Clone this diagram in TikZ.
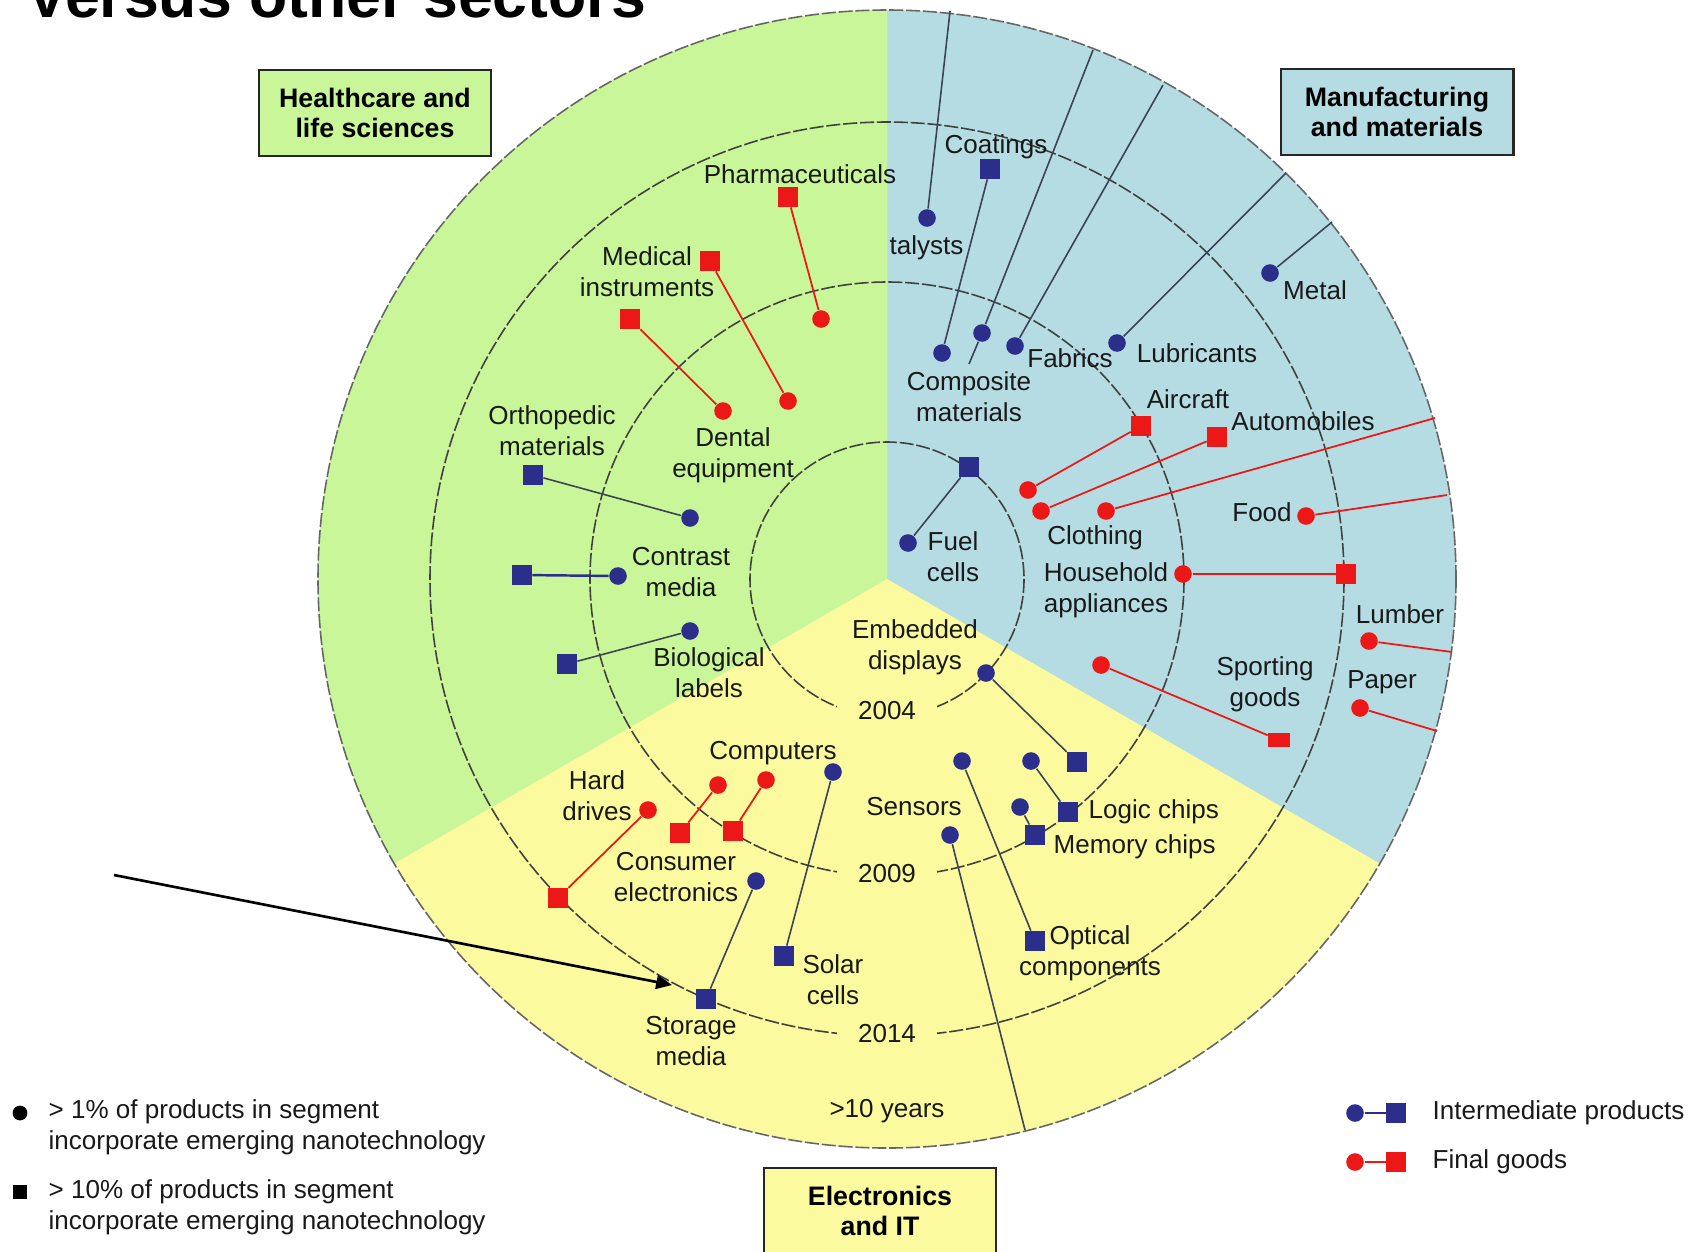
\documentclass[tikz,border=0pt]{standalone}
\usepackage{fontspec}
\setmainfont{Liberation Sans}
\usetikzlibrary{arrows.meta}
\definecolor{hlthgreen}{RGB}{200,246,152}
\definecolor{mfgblue}{RGB}{180,220,226}
\definecolor{elecyellow}{RGB}{252,250,158}
\definecolor{navy}{RGB}{44,46,140}
\definecolor{prodred}{RGB}{236,24,24}
\definecolor{linkgray}{RGB}{60,66,86}
\tikzset{>={Triangle[length=4.5pt,width=4pt]}}

\begin{document}
\begin{tikzpicture}[x=0.01cm, y=-0.01cm, font=\fontsize{7.4}{8.8}\selectfont,
    dot/.style={circle, inner sep=0pt, minimum size=5pt},
    sq/.style={rectangle, inner sep=0pt, minimum size=5.5pt},
    bluedot/.style={dot, fill=navy}, bluesq/.style={sq, fill=navy},
    reddot/.style={dot, fill=prodred}, redsq/.style={sq, fill=prodred},
    bluelink/.style={draw=linkgray, line width=0.45pt},
    redlink/.style={draw=prodred, line width=0.5pt},
    ring/.style={draw=black!75, line width=0.45pt, dash pattern=on 4pt off 0.8pt},
    lbl/.style={align=center, inner sep=0pt, text=black!90},
    year/.style={fill=elecyellow, inner xsep=6pt, inner ysep=1.5pt},
    sector/.style={draw=black!85, line width=0.8pt, align=center, inner sep=0pt,
      minimum width=2.32cm, minimum height=0.86cm,
      font=\fontsize{7.6}{8.6}\selectfont\bfseries}]
  \useasboundingbox (0,0) rectangle (1707,1251);
  \fill[white] (0,0) rectangle (1707,1251);
  \node[anchor=base west, inner sep=0pt, font=\fontsize{17.8}{20}\selectfont\bfseries] (title) at (26,17) {Versus other sectors};

  \coordinate (ctr) at (887,579);
  \fill[mfgblue] (ctr) circle[radius=569];
  \fill[hlthgreen] (ctr) -- ++(-90:569) arc[start angle=-90, end angle=-210, radius=569] -- cycle;
  \fill[elecyellow] (ctr) -- ++(-210:569) arc[start angle=-210, end angle=-330, radius=569] -- cycle;
  \draw[ring] (ctr) circle[radius=137];
  \draw[ring] (ctr) circle[radius=297];
  \draw[ring] (ctr) circle[radius=457];
  \draw[ring, draw=black!60] (ctr) circle[radius=569];

  \node[lbl, year] (y2004) at (887,711) {2004};
  \node[lbl, year] (y2009) at (887,874) {2009};
  \node[lbl, year] (y2014) at (887,1034) {2014};
  \node[lbl] (y10) at (887,1111) {>10 years};

  \node[sector, fill=hlthgreen] (hlthBox) at (375,113) {Healthcare and\\life sciences};
  \node[sector, fill=mfgblue] (mfgBox) at (1397,112) {Manufacturing\\and materials};
  \node[sector, fill=elecyellow] (elecBox) at (880,1211) {Electronics\\and IT};

  \node[redsq] (pharmaSq) at (788,197) {};
  \node[reddot] (pharmaDot) at (821,319) {};
  \node[redsq] (medSqA) at (710,261) {};
  \node[redsq] (medSqB) at (630,319) {};
  \node[reddot] (dentDotA) at (723,411) {};
  \node[reddot] (dentDotB) at (788,401) {};
  \node[bluesq] (orthoSq) at (533,475) {};
  \node[bluedot] (orthoDot) at (690,518) {};
  \node[bluesq] (contrSq) at (522,575) {};
  \node[bluedot] (contrDot) at (618,576) {};
  \node[bluedot] (bioDot) at (690,631) {};
  \node[bluesq] (bioSq) at (567,664) {};
  \draw[redlink] (pharmaSq) -- (pharmaDot);
  \draw[redlink] (medSqA) -- (dentDotB);
  \draw[redlink] (medSqB) -- (dentDotA);
  \draw[bluelink] (orthoSq) -- (orthoDot);
  \draw[bluelink, draw=navy, line width=0.7pt] (contrSq) -- (contrDot);
  \draw[bluelink] (bioSq) -- (bioDot);
  \node[lbl] (pharmaLbl) at (800,174) {Pharmaceuticals};
  \node[lbl] (medLbl) at (647,272) {Medical\\instruments};
  \node[lbl] (dentLbl) at (733,455) {Dental\\equipment};
  \node[lbl] (orthoLbl) at (552,431) {Orthopedic\\materials};
  \node[lbl] (contrLbl) at (681,572) {Contrast\\media};
  \node[lbl] (bioLbl) at (709,673) {Biological\\labels};

  \node[bluesq] (coatSq) at (990,169) {};
  \node[bluedot] (catDot) at (927,218) {};
  \node[bluedot] (compDotA) at (942,353) {};
  \node[bluedot] (compDotB) at (982,333) {};
  \node[bluedot] (fabDot) at (1015,346) {};
  \node[bluedot] (lubDot) at (1117,343) {};
  \node[bluedot] (metalDot) at (1270,273) {};
  \node[bluesq] (fuelSq) at (969,467) {};
  \node[bluedot] (fuelDot) at (908,543) {};
  \coordinate (catEnd) at (950,11);
  \coordinate (compEnd) at (1093,50);
  \coordinate (compTail) at (969,364);
  \coordinate (fabEnd) at (1163,85);
  \coordinate (lubEnd) at (1286,173);
  \coordinate (metalEnd) at (1332,222);
  \draw[bluelink] (coatSq) -- (compDotA);
  \draw[bluelink] (catDot) -- (catEnd);
  \draw[bluelink] (compEnd) -- (compDotB) -- (compTail);
  \draw[bluelink] (fabDot) -- (fabEnd);
  \draw[bluelink] (lubDot) -- (lubEnd);
  \draw[bluelink] (metalDot) -- (metalEnd);
  \draw[bluelink] (fuelSq) -- (fuelDot);

  \node[reddot] (clothDotA) at (1028,490) {};
  \node[reddot] (clothDotB) at (1041,511) {};
  \node[reddot] (clothDotC) at (1106,511) {};
  \node[redsq] (airSq) at (1141,426) {};
  \node[redsq] (autoSq) at (1217,437) {};
  \node[reddot] (foodDot) at (1306,516) {};
  \node[reddot] (houseDot) at (1183,574) {};
  \node[redsq] (houseSq) at (1346,574) {};
  \node[reddot] (lumberDot) at (1369,641) {};
  \node[reddot] (paperDot) at (1360,708) {};
  \node[reddot] (sportDot) at (1101,665) {};
  \node[redsq, minimum width=6pt, minimum height=4.2pt] (sportSq) at (1279,740) {};
  \coordinate (autoEnd) at (1435,418);
  \coordinate (foodEnd) at (1447,495);
  \coordinate (lumberEnd) at (1452,652);
  \coordinate (paperEnd) at (1437,731);
  \draw[redlink] (clothDotA) -- (airSq);
  \draw[redlink] (clothDotB) -- (autoSq);
  \draw[redlink] (clothDotC) -- (autoEnd);
  \draw[redlink] (foodDot) -- (foodEnd);
  \draw[redlink, line width=0.8pt] (houseDot) -- (houseSq);
  \draw[redlink] (lumberDot) -- (lumberEnd);
  \draw[redlink] (paperDot) -- (paperEnd);
  \draw[redlink] (sportDot) -- (sportSq);
  \node[lbl] (coatLbl) at (996,147) {Coatings};
  \node[lbl, anchor=west] (catLbl) at (889,248) {talysts};
  \node[lbl] (metalLbl) at (1315,290) {Metal};
  \node[lbl] (lubLbl) at (1197,353) {Lubricants};
  \node[lbl] (fabLbl) at (1070,358) {Fabrics};
  \node[lbl] (compLbl) at (969,397) {Composite\\materials};
  \node[lbl] (airLbl) at (1188,399) {Aircraft};
  \node[lbl] (autoLbl) at (1303,421) {Automobiles};
  \node[lbl] (foodLbl) at (1262,512) {Food};
  \node[lbl] (clothLbl) at (1095,538) {Clothing};
  \node[lbl] (houseLbl) at (1106,590) {Household\\appliances};
  \node[lbl] (fuelLbl) at (953,557) {Fuel\\cells};
  \node[lbl] (lumberLbl) at (1400,614) {Lumber};
  \node[lbl] (paperLbl) at (1382,682) {Paper};
  \node[lbl] (sportLbl) at (1265,684) {Sporting\\goods};

  \node[bluedot] (embDot) at (986,673) {};
  \node[bluesq] (embSq) at (1077,762) {};
  \node[bluedot] (sensDotA) at (962,761) {};
  \node[bluedot] (sensDotB) at (1031,761) {};
  \node[bluedot] (sensDotC) at (1020,807) {};
  \node[bluedot] (sensDotD) at (950,835) {};
  \node[bluesq] (optSq) at (1035,941) {};
  \node[bluesq] (logicSq) at (1068,812) {};
  \node[bluesq] (memSq) at (1035,835) {};
  \coordinate (sensEnd) at (1025,1130);
  \node[reddot] (compuDotA) at (718,785) {};
  \node[reddot] (compuDotB) at (766,780) {};
  \node[bluedot] (compuDotC) at (833,772) {};
  \node[redsq] (consSqA) at (680,833) {};
  \node[redsq] (consSqB) at (733,831) {};
  \node[bluesq] (solarSq) at (784,956) {};
  \node[reddot] (hardDot) at (648,810) {};
  \node[redsq] (hardSq) at (558,898) {};
  \node[bluedot] (consDot) at (756,881) {};
  \node[bluesq] (storSq) at (706,999) {};
  \draw[bluelink] (embDot) -- (embSq);
  \draw[bluelink] (sensDotA) -- (optSq);
  \draw[bluelink] (sensDotB) -- (logicSq);
  \draw[bluelink] (sensDotC) -- (memSq);
  \draw[bluelink] (sensDotD) -- (sensEnd);
  \draw[redlink] (compuDotA) -- (consSqA);
  \draw[redlink] (compuDotB) -- (consSqB);
  \draw[bluelink] (compuDotC) -- (solarSq);
  \draw[redlink] (hardDot) -- (hardSq);
  \draw[bluelink] (consDot) -- (storSq);
  \node[lbl] (embLbl) at (915,647) {Embedded\\displays};
  \node[lbl] (sensLbl) at (914,807) {Sensors};
  \node[lbl, anchor=west] (logicLbl) at (1088,812) {Logic chips};
  \node[lbl, anchor=west] (memLbl) at (1053,847) {Memory chips};
  \node[lbl] (optLbl) at (1090,953) {Optical\\components};
  \node[lbl] (compuLbl) at (773,753) {Computers};
  \node[lbl] (hardLbl) at (597,796) {Hard\\drives};
  \node[lbl] (consLbl) at (676,877) {Consumer\\electronics};
  \node[lbl] (solarLbl) at (833,980) {Solar\\cells};
  \node[lbl] (storLbl) at (691,1041) {Storage\\media};

  \coordinate (arrowStart) at (114,875);
  \coordinate (arrowTip) at (672,985);
  \draw[->, line width=0.75pt] (arrowStart) -- (arrowTip);

  \node[circle, fill=black, inner sep=0pt, minimum size=4.2pt] (legDot) at (20,1113) {};
  \node[rectangle, fill=black, inner sep=0pt, minimum size=4.2pt] (legSq) at (20,1192) {};
  \node[lbl, anchor=west, align=left] (legDotTxt) at (48,1127) {> 1\% of products in segment\\incorporate emerging nanotechnology};
  \node[lbl, anchor=west, align=left] (legSqTxt) at (48,1207) {> 10\% of products in segment\\incorporate emerging nanotechnology};

  \node[bluedot] (keyBlueDot) at (1355,1113) {};
  \node[bluesq] (keyBlueSq) at (1396,1113) {};
  \node[reddot] (keyRedDot) at (1355,1162) {};
  \node[redsq] (keyRedSq) at (1396,1162) {};
  \draw[draw=navy, line width=0.8pt] (keyBlueDot) -- (keyBlueSq);
  \draw[redlink, line width=0.8pt] (keyRedDot) -- (keyRedSq);
  \node[lbl, anchor=west] (keyBlueTxt) at (1432,1113) {Intermediate products};
  \node[lbl, anchor=west] (keyRedTxt) at (1432,1162) {Final goods};
\end{tikzpicture}
\end{document}
